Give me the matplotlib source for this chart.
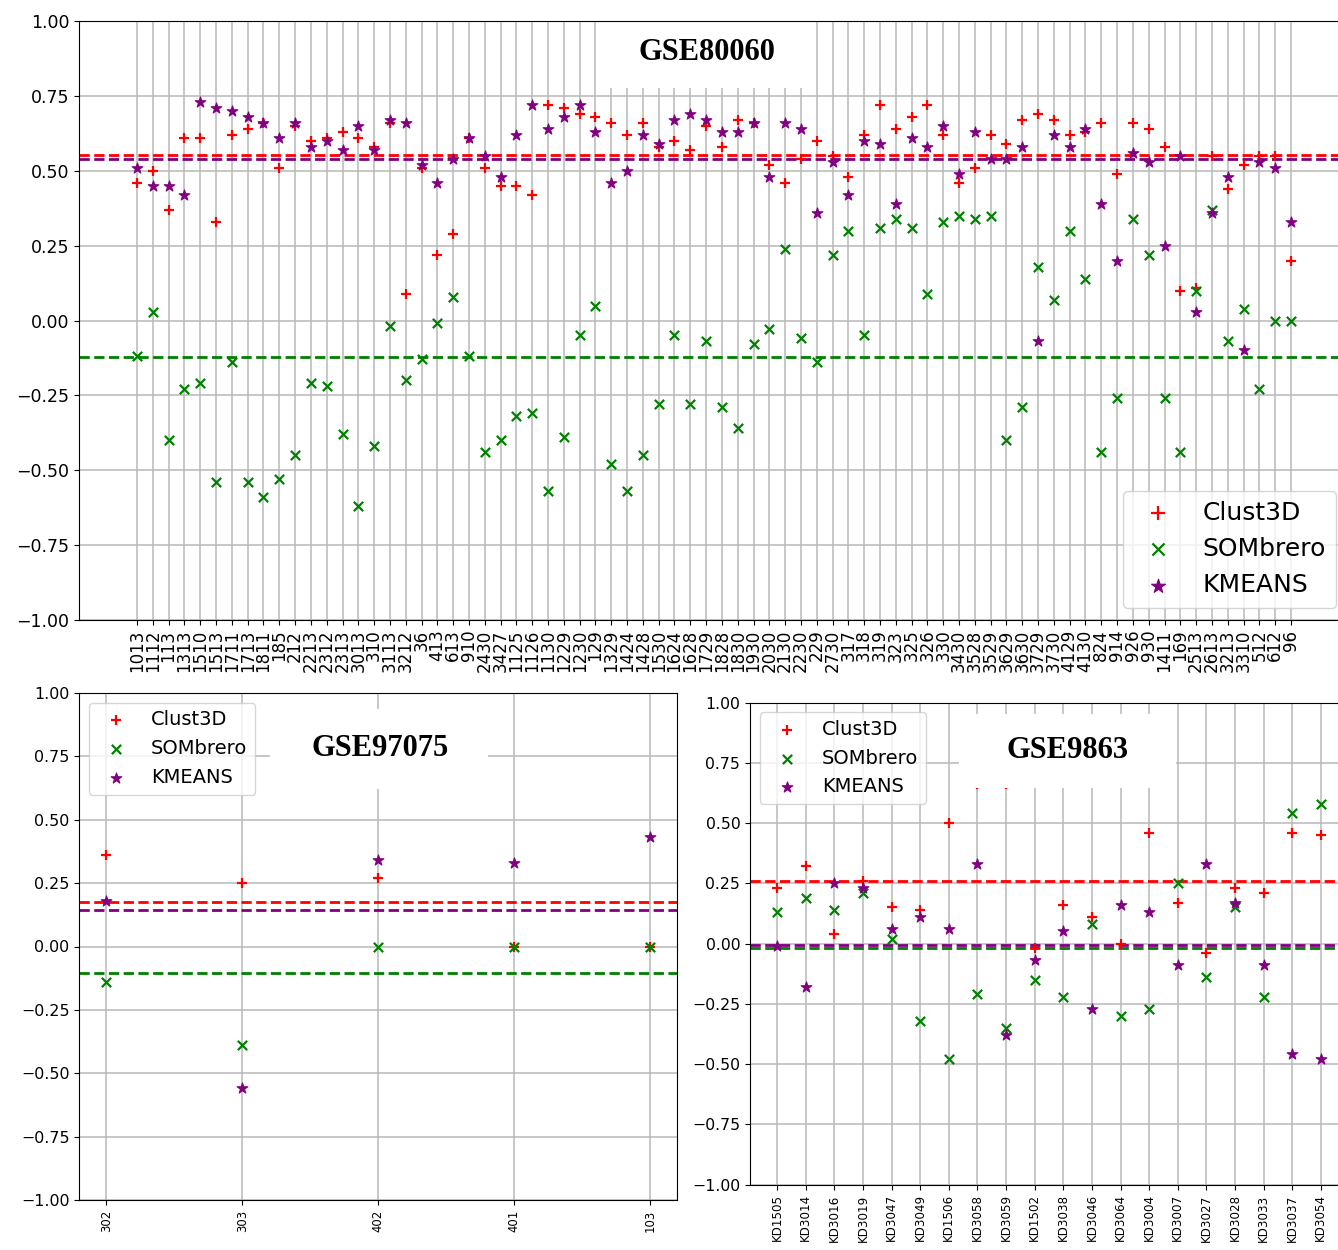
import numpy as np
import matplotlib
matplotlib.use("Agg")
import matplotlib.pyplot as plt
from matplotlib.patches import Rectangle

# ---------------- data ----------------
labels_80060 = ["1013", "1112", "113", "1313", "1510", "1513", "1711", "1713", "1811", "185",
                "212", "2213", "2312", "2313", "3013", "310", "3113", "3212", "36", "413",
                "613", "910", "2430", "3427", "1125", "1126", "1130", "1229", "1230", "129",
                "1329", "1424", "1428", "1530", "1624", "1628", "1729", "1828", "1830", "1930",
                "2030", "2130", "2230", "229", "2730", "317", "318", "319", "323", "325",
                "326", "330", "3430", "3528", "3529", "3629", "3630", "3729", "3730", "4129",
                "4130", "824", "914", "926", "930", "1411", "169", "2513", "2613", "3213",
                "3310", "512", "612", "96"]
clust3d_80060 = [0.46, 0.50, 0.37, 0.61, 0.61, 0.33, 0.62, 0.64, 0.66, 0.51,
                 0.65, 0.60, 0.61, 0.63, 0.61, 0.58, 0.66, 0.09, 0.51, 0.22,
                 0.29, 0.61, 0.51, 0.45, 0.45, 0.42, 0.72, 0.71, 0.69, 0.68,
                 0.66, 0.62, 0.66, 0.58, 0.60, 0.57, 0.65, 0.58, 0.67, 0.66,
                 0.52, 0.46, 0.54, 0.60, 0.55, 0.48, 0.62, 0.72, 0.64, 0.68,
                 0.72, 0.62, 0.46, 0.51, 0.62, 0.59, 0.67, 0.69, 0.67, 0.62,
                 0.63, 0.66, 0.49, 0.66, 0.64, 0.58, 0.10, 0.11, 0.55, 0.44,
                 0.52, 0.55, 0.55, 0.20]
sombrero_80060 = [-0.12, 0.03, -0.40, -0.23, -0.21, -0.54, -0.14, -0.54, -0.59, -0.53,
                  -0.45, -0.21, -0.22, -0.38, -0.62, -0.42, -0.02, -0.20, -0.13, -0.01,
                  0.08, -0.12, -0.44, -0.40, -0.32, -0.31, -0.57, -0.39, -0.05, 0.05,
                  -0.48, -0.57, -0.45, -0.28, -0.05, -0.28, -0.07, -0.29, -0.36, -0.08,
                  -0.03, 0.24, -0.06, -0.14, 0.22, 0.30, -0.05, 0.31, 0.34, 0.31,
                  0.09, 0.33, 0.35, 0.34, 0.35, -0.40, -0.29, 0.18, 0.07, 0.30,
                  0.14, -0.44, -0.26, 0.34, 0.22, -0.26, -0.44, 0.10, 0.37, -0.07,
                  0.04, -0.23, 0.00, 0.00]
kmeans_80060 = [0.51, 0.45, 0.45, 0.42, 0.73, 0.71, 0.70, 0.68, 0.66, 0.61,
                0.66, 0.58, 0.60, 0.57, 0.65, 0.57, 0.67, 0.66, 0.52, 0.46,
                0.54, 0.61, 0.55, 0.48, 0.62, 0.72, 0.64, 0.68, 0.72, 0.63,
                0.46, 0.50, 0.62, 0.59, 0.67, 0.69, 0.67, 0.63, 0.63, 0.66,
                0.48, 0.66, 0.64, 0.36, 0.53, 0.42, 0.60, 0.59, 0.39, 0.61,
                0.58, 0.65, 0.49, 0.63, 0.54, 0.54, 0.58, -0.07, 0.62, 0.58,
                0.64, 0.39, 0.20, 0.56, 0.53, 0.25, 0.55, 0.03, 0.36, 0.48,
                -0.10, 0.53, 0.51, 0.33]

labels_97075 = ["302", "303", "402", "401", "103"]
clust3d_97075 = [0.36, 0.25, 0.27, 0.00, 0.00]
sombrero_97075 = [-0.14, -0.39, 0.00, 0.00, 0.00]
kmeans_97075 = [0.18, -0.56, 0.34, 0.33, 0.43]

labels_9863 = ["KD1505", "KD3014", "KD3016", "KD3019", "KD3047", "KD3049", "KD1506",
               "KD3058", "KD3059", "KD1502", "KD3038", "KD3046", "KD3064", "KD3004",
               "KD3007", "KD3027", "KD3028", "KD3033", "KD3037", "KD3054"]
clust3d_9863 = [0.23, 0.32, 0.04, 0.26, 0.15, 0.14, 0.50, 0.66, 0.66, -0.02,
                0.16, 0.11, 0.00, 0.46, 0.17, -0.04, 0.23, 0.21, 0.46, 0.45]
sombrero_9863 = [0.13, 0.19, 0.14, 0.21, 0.02, -0.32, -0.48, -0.21, -0.35, -0.15,
                 -0.22, 0.08, -0.30, -0.27, 0.25, -0.14, 0.15, -0.22, 0.54, 0.58]
kmeans_9863 = [-0.01, -0.18, 0.25, 0.23, 0.06, 0.11, 0.06, 0.33, -0.38, -0.07,
               0.05, -0.27, 0.16, 0.13, -0.09, 0.33, 0.17, -0.09, -0.46, -0.48]

# ---------------- figure ----------------
W, H = 1338, 1250
fig = plt.figure(figsize=(W / 100, H / 100), dpi=100)


def px_axes(l, t, r, b):
    return fig.add_axes([l / W, 1 - b / H, (r - l) / W, (b - t) / H])


def fx(x):
    return x / W


def fy(y):
    return 1 - y / H


def panel(ax, labels, c, s, k, xfs, yfs, legfs, legloc, markerscale):
    x = np.arange(len(labels))
    ax.scatter(x, c, marker="+", color="red", s=55, linewidths=1.6, label="Clust3D", zorder=2.2)
    ax.scatter(x, s, marker="x", color="green", s=45, linewidths=1.6, label="SOMbrero", zorder=2.2)
    ax.scatter(x, k, marker="*", color="purple", s=65, linewidths=0.8, label="KMEANS", zorder=2.2)
    ax.axhline(np.mean(c), color="red", ls="--", lw=2, zorder=2)
    ax.axhline(np.mean(s), color="green", ls="--", lw=2, zorder=2)
    ax.axhline(np.mean(k), color="purple", ls="--", lw=2, zorder=2)
    ax.set_xticks(x)
    ax.set_xticklabels(labels, rotation=90)
    ax.set_ylim(-1, 1)
    ax.set_yticks(np.arange(-1, 1.01, 0.25))
    ax.margins(x=0.05)
    ax.grid(True, color="#b8b8b8", lw=1.1)
    ax.tick_params(axis="x", labelsize=xfs)
    ax.tick_params(axis="y", labelsize=yfs)
    ax.legend(loc=legloc, fontsize=legfs, markerscale=markerscale)


def title_box(ax, text, cx, cy, x0, x1, y0, y1):
    ax.add_patch(Rectangle((fx(x0), fy(y1)), fx(x1) - fx(x0), fy(y0) - fy(y1),
                           transform=fig.transFigure, facecolor="white",
                           edgecolor="none", zorder=2.4))
    ax.text(fx(cx), fy(cy), text, transform=fig.transFigure, ha="center", va="center",
            fontsize=22, fontweight="bold", family="Liberation Serif", zorder=4)


ax1 = px_axes(79.3, 21, 1348.7, 620)
panel(ax1, labels_80060, clust3d_80060, sombrero_80060, kmeans_80060,
      12.0, 12.5, 18, "lower right", 1.3)
title_box(ax1, "GSE80060", 707, 53, 598, 812, 15, 88)

ax2 = px_axes(79.3, 693, 677, 1200)
panel(ax2, labels_97075, clust3d_97075, sombrero_97075, kmeans_97075,
      8.4, 11.4, 14, "upper left", 1.0)
title_box(ax2, "GSE97075", 380, 749, 270, 488, 709, 789)

ax3 = px_axes(750, 702.5, 1348, 1184.6)
panel(ax3, labels_9863, clust3d_9863, sombrero_9863, kmeans_9863,
      8.6, 11.3, 14, "upper left", 1.0)
title_box(ax3, "GSE9863", 1067, 751, 959, 1176, 714, 788)

fig.savefig("out.png", dpi=100)
